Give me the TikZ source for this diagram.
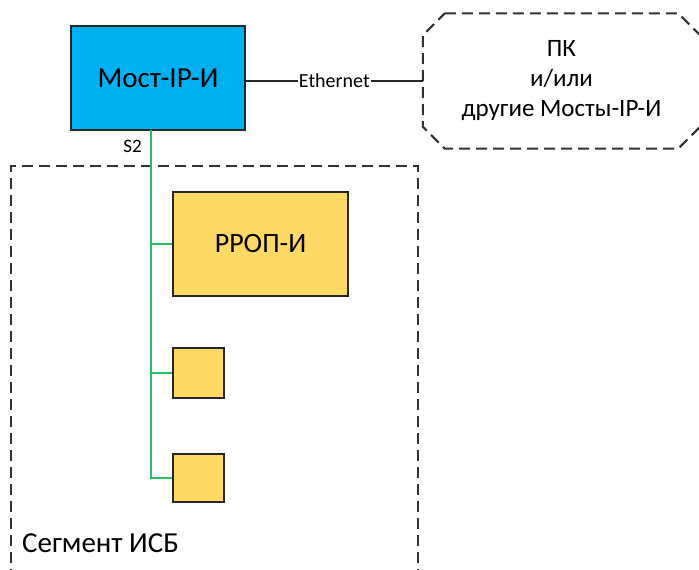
\documentclass[tikz,border=0pt]{standalone}
\usepackage{fontspec}
\setmainfont{Carlito}
\begin{document}
\begin{tikzpicture}[x=1pt,y=-1pt,
  box/.style={draw=boxline,line width=1.8pt,inner sep=0pt},
  bus/.style={draw=busgreen,line width=1.5pt},
  dashline/.style={draw=dashgray,line width=2pt,dash pattern=on 11pt off 6pt},
  lab/.style={inner sep=1pt}]
\definecolor{cyanbox}{RGB}{0,176,240}
\definecolor{yellowbox}{RGB}{255,217,102}
\definecolor{boxline}{RGB}{38,38,38}
\definecolor{busgreen}{RGB}{40,190,100}
\definecolor{dashgray}{RGB}{50,50,50}
\useasboundingbox (0,0) rectangle (699,570);
% segment
\draw[dashline] (11,580) -- (11,166) -- (418,166) -- (418,580);
\node[anchor=base west,font=\fontsize{29}{32}\selectfont,inner sep=0pt] (seg) at (22,552) {Сегмент ИСБ};
% Most
\node[box,fill=cyanbox,minimum width=174pt,minimum height=104pt,font=\fontsize{29}{32}\selectfont] (most) at (158,78) {Мост-IP-И};
% PC octagon
\node[minimum width=277pt,minimum height=135pt,inner sep=0pt,align=center,font=\fontsize{25}{30}\selectfont] (pc) at (561.5,81) {ПК\\и/или\\другие Мосты-IP-И};
\draw[dashline] ([xshift=22pt]pc.north west) -- ([xshift=-22pt]pc.north east) -- ([yshift=-22pt]pc.north east)
  -- ([yshift=22pt]pc.south east) -- ([xshift=-22pt]pc.south east) -- ([xshift=22pt]pc.south west)
  -- ([yshift=22pt]pc.south west) -- ([yshift=-22pt]pc.north west) -- cycle;
% Ethernet
\draw[line width=1.4pt,draw=boxline] (most.east |- pc.west) -- node[lab,fill=white,font=\fontsize{20}{22}\selectfont] (eth) {Ethernet} (pc.west);
% devices
\node[box,fill=yellowbox,minimum width=175pt,minimum height=104pt,font=\fontsize{28}{30}\selectfont] (rrop) at (260.5,244) {РРОП-И};
\node[box,fill=yellowbox,minimum width=51pt,minimum height=50pt] (d1) at (198.5,373) {};
\node[box,fill=yellowbox,minimum width=51pt,minimum height=48pt] (d2) at (198.5,478) {};
% bus
\coordinate (top) at (151,130);
\coordinate (bend) at (151,478);
\draw[bus] (top) -- (bend) -- (d2.west);
\draw[bus] (151,244) -- (rrop.west);
\draw[bus] (151,373) -- (d1.west);
\node[lab,anchor=base east,font=\fontsize{19}{20}\selectfont] (s2) at (143,152) {S2};
\end{tikzpicture}
\end{document}
